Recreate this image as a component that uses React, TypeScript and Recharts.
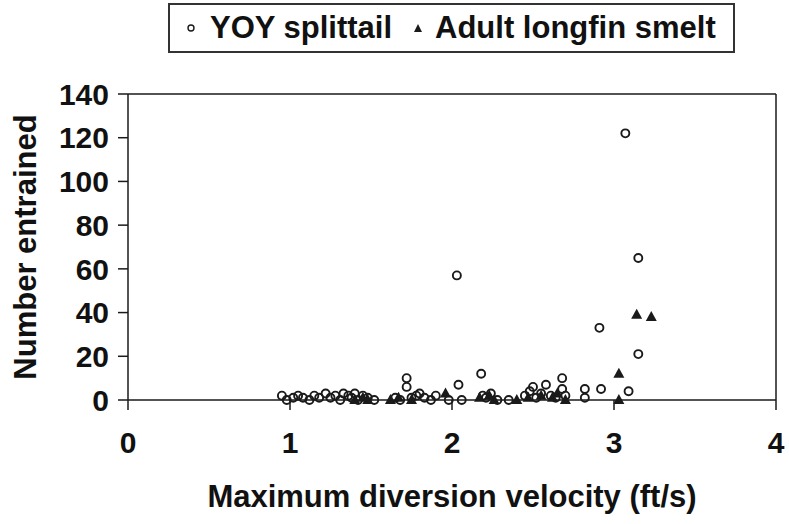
import React from 'react';
import { ScatterChart, Scatter, XAxis, YAxis, ReferenceLine, Legend, Label } from 'recharts';

const splittailVelocity = [0.95, 0.98, 1.02, 1.05, 1.08, 1.12, 1.15, 1.18, 1.22, 1.25, 1.28, 1.31, 1.33, 1.36, 1.38, 1.40, 1.42, 1.45, 1.48, 1.52, 1.65, 1.68, 1.72, 1.72, 1.75, 1.78, 1.80, 1.83, 1.87, 1.90, 1.98, 2.03, 2.04, 2.06, 2.18, 2.19, 2.21, 2.24, 2.28, 2.35, 2.45, 2.48, 2.50, 2.52, 2.55, 2.58, 2.61, 2.64, 2.68, 2.68, 2.70, 2.82, 2.82, 2.91, 2.92, 3.07, 3.09, 3.15, 3.15];
const splittailCount = [2, 0, 1, 2, 1, 0, 2, 1, 3, 1, 2, 0, 3, 2, 1, 3, 0, 2, 1, 0, 1, 0, 10, 6, 1, 2, 3, 1, 0, 2, 0, 57, 7, 0, 12, 2, 1, 3, 0, 0, 2, 4, 6, 1, 3, 7, 2, 1, 10, 5, 2, 5, 1, 33, 5, 122, 4, 65, 21];

const smeltVelocity = [1.40, 1.45, 1.48, 1.62, 1.67, 1.75, 1.96, 2.17, 2.23, 2.26, 2.40, 2.47, 2.55, 2.62, 2.65, 2.70, 3.03, 3.03, 3.14, 3.23];
const smeltCount = [0, 1, 0, 0, 1, 0, 3, 1, 2, 0, 0, 1, 2, 1, 3, 0, 12, 0, 39, 38];

const xTicks = [0, 1, 2, 3, 4];
const yTicks = [0, 20, 40, 60, 80, 100, 120, 140];

const splittailData = splittailVelocity.map((v, i) => ({ v, n: splittailCount[i] }));
const smeltData = smeltVelocity.map((v, i) => ({ v, n: smeltCount[i] }));

const FONT = '"Liberation Sans", Arial, Helvetica, sans-serif';
const INK = '#1a1a1a';

const CircleShape = (props: any) => (
  <circle cx={props.cx} cy={props.cy} r={4} fill="none" stroke={INK} strokeWidth={1.9} />
);

const TriangleShape = (props: any) => {
  const { cx, cy } = props;
  return <polygon points={`${cx},${cy - 6} ${cx - 5.5},${cy + 4} ${cx + 5.5},${cy + 4}`} fill={INK} />;
};

const LegendBox = () => (
  <div
    style={{
      boxSizing: 'border-box',
      width: 567,
      height: 50,
      border: '2px solid #333',
      background: '#fff',
      display: 'flex',
      alignItems: 'center',
      fontFamily: FONT,
      fontWeight: 700,
      fontSize: 31,
      color: '#111',
      paddingLeft: 16,
      whiteSpace: 'nowrap',
    }}
  >
    <svg width={10} height={10} style={{ display: 'block' }}>
      <circle cx={5} cy={5} r={3} fill="none" stroke={INK} strokeWidth={1.4} />
    </svg>
    <span style={{ marginLeft: 14 }}>YOY splittail</span>
    <svg width={10} height={10} style={{ display: 'block', marginLeft: 21 }}>
      <polygon points="5,1 1,9 9,9" fill={INK} />
    </svg>
    <span style={{ marginLeft: 12 }}>Adult longfin smelt</span>
  </div>
);

export default function App() {
  return (
    <div style={{ position: 'absolute', left: 0, top: 0, width: 789, height: 524, background: '#fff' }}>
      <ScatterChart width={789} height={524} margin={{ top: 44, right: 13, bottom: 0, left: 0 }}>
        <Legend
          verticalAlign="top"
          content={() => <LegendBox />}
          wrapperStyle={{ top: 3, left: 168, width: 567, height: 50 }}
        />
        <XAxis
          type="number"
          dataKey="v"
          domain={[0, 4]}
          ticks={xTicks}
          height={124}
          tickSize={10}
          tickMargin={22}
          axisLine={{ stroke: INK, strokeWidth: 1.5 }}
          tickLine={{ stroke: INK, strokeWidth: 1.5 }}
          tick={{ fontSize: 30, fontWeight: 700, fill: '#111', fontFamily: FONT }}
        >
          <Label
            value="Maximum diversion velocity (ft/s)"
            position="insideBottom"
            offset={17}
            style={{ fontSize: 31, fontWeight: 700, fill: '#111', fontFamily: FONT }}
          />
        </XAxis>
        <YAxis
          type="number"
          dataKey="n"
          domain={[0, 140]}
          ticks={yTicks}
          width={128}
          tickSize={10}
          tickMargin={9}
          axisLine={{ stroke: INK, strokeWidth: 1.5 }}
          tickLine={{ stroke: INK, strokeWidth: 1.5 }}
          tick={{ fontSize: 30, fontWeight: 700, fill: '#111', fontFamily: FONT }}
        >
          <Label
            value="Number entrained"
            angle={-90}
            position="insideLeft"
            offset={25}
            style={{ fontSize: 31, fontWeight: 700, fill: '#111', fontFamily: FONT, textAnchor: 'middle' }}
          />
        </YAxis>
        <ReferenceLine y={140} stroke={INK} strokeWidth={1.5} />
        <ReferenceLine x={4} stroke={INK} strokeWidth={1.5} />
        <Scatter name="YOY splittail" data={splittailData} shape={CircleShape} isAnimationActive={false} />
        <Scatter name="Adult longfin smelt" data={smeltData} shape={TriangleShape} isAnimationActive={false} />
      </ScatterChart>
    </div>
  );
}
